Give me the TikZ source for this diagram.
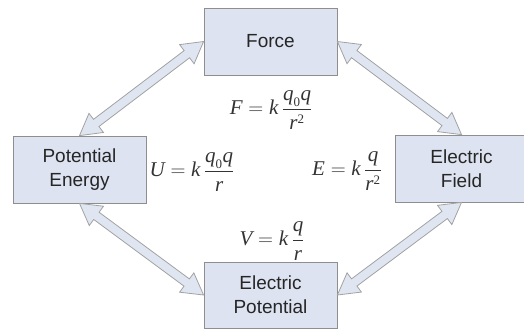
\documentclass[tikz,border=0pt]{standalone}
\usepackage{amsmath}
\usepackage{fontspec}
\setmainfont{Liberation Sans}
\newfontfamily\eqfont{Liberation Serif}
\usetikzlibrary{calc}
\definecolor{boxfill}{HTML}{DDE3F0}
\definecolor{boxline}{HTML}{8E8E8E}
\definecolor{arrfill}{HTML}{E0E6F1}
\definecolor{arrline}{HTML}{A2A2A2}
\newcommand\iv[1]{\mbox{\eqfont\itshape #1}}
\newcommand\sub[1]{\mbox{\eqfont\fontsize{13}{14}\selectfont #1}}
\newcommand\dblarrow[2]{%
  \fill[arrfill,draw=arrline,line width=0.8pt,line join=miter]
    #1 -- ($($#1!21pt!#2$)!12pt!90:#2$) -- ($($#1!21pt!#2$)!4.5pt!90:#2$)
    -- ($($#2!21pt!#1$)!4.5pt!-90:#1$) -- ($($#2!21pt!#1$)!12pt!-90:#1$)
    -- #2 -- ($($#2!21pt!#1$)!12pt!90:#1$) -- ($($#2!21pt!#1$)!4.5pt!90:#1$)
    -- ($($#1!21pt!#2$)!4.5pt!-90:#2$) -- ($($#1!21pt!#2$)!12pt!-90:#2$) -- cycle;}
\begin{document}
\begin{tikzpicture}[x=1pt,y=-1pt,
  box/.style={draw=boxline,fill=boxfill,line width=0.8pt,minimum width=133pt,
    minimum height=67pt,align=center,inner sep=0pt,
    font=\fontsize{19}{24}\selectfont,text=black!85},
  eq/.style={inner sep=0pt,font=\fontsize{21}{23}\selectfont,text=black!80}]
\useasboundingbox (0,0) rectangle (524,329);
\clip (0,0) rectangle (524,329);
\node[box] (force) at (270.5,41.5) {Force};
\node[box] (pe) at (79.5,169.5) {Potential\\Energy};
\node[box] (ef) at (461.5,168.5) {Electric\\Field};
\node[box,minimum height=66pt] (ep) at (270.5,295) {Electric\\Potential};
\dblarrow{(force.west)}{(pe.north)}
\dblarrow{(force.east)}{(ef.north)}
\dblarrow{(pe.south)}{(ep.west)}
\dblarrow{(ep.east)}{(ef.south)}
\node[eq] (feq) at (271,110) {$\iv{F} = \iv{k}\,\dfrac{\iv{q}_{\sub{0}}\iv{q}}{\iv{r}^{\sub{2}}}$};
\node[eq] (ueq) at (192,172) {$\iv{U} = \iv{k}\,\dfrac{\iv{q}_{\sub{0}}\iv{q}}{\iv{r}}$};
\node[eq] (eeq) at (347,171) {$\iv{E} = \iv{k}\,\dfrac{\iv{q}}{\iv{r}^{\sub{2}}}$};
\node[eq] (veq) at (272,241) {$\iv{V} = \iv{k}\,\dfrac{\iv{q}}{\iv{r}}$};
\end{tikzpicture}
\end{document}
